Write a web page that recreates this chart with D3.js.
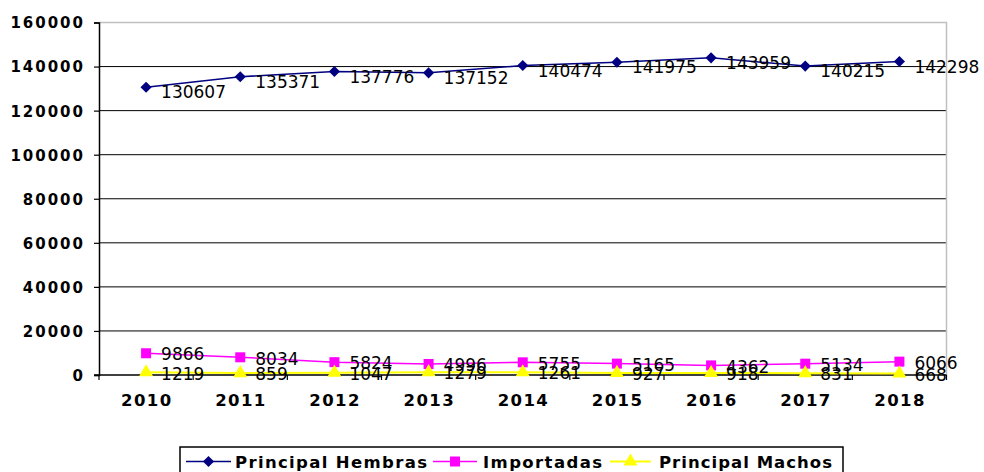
<!DOCTYPE html>
<html>
<head>
<meta charset="utf-8">
<script src="https://cdn.jsdelivr.net/npm/d3@7/dist/d3.min.js"></script>
<style>
html,body{margin:0;padding:0;background:#fff;}
svg{display:block;}
</style>
</head>
<body>
<svg id="chart" width="984" height="472"></svg>
<script>
const years = ["2010","2011","2012","2013","2014","2015","2016","2017","2018"];
const hembras = [130607,135371,137776,137152,140474,141975,143959,140215,142298];
const importadas = [9866,8034,5824,4996,5755,5165,4362,5134,6066];
const machos = [1219,859,1047,1279,1261,927,918,831,668];
const yTicks = [0,20000,40000,60000,80000,100000,120000,140000,160000];
const seriesNames = ["Principal Hembras","Importadas","Principal Machos"];

(function () {
const series = [
  {name: seriesNames[0], values: hembras, color: "#000080", symbol: "diamond", dy: 5, lw: 1.5},
  {name: seriesNames[1], values: importadas, color: "#FF00FF", symbol: "square", dy: 1, lw: 1.5},
  {name: seriesNames[2], values: machos, color: "#FFFF00", symbol: "triangle", dy: 1, lw: 2}
];

const svg = d3.select("#chart");
const pLeft = 99, pRight = 946.5, pTop = 22.5, pBottom = 375;
const x = d3.scaleBand().domain(years).range([pLeft, pRight]).padding(0);
const y = d3.scaleLinear().domain([0,160000]).range([pBottom, pTop]);

// gridlines
svg.append("g").selectAll("line").data(yTicks.filter(d => d > 0 && d < 160000)).join("line")
  .attr("x1", pLeft).attr("x2", pRight)
  .attr("y1", d => y(d)).attr("y2", d => y(d))
  .attr("stroke", "#000").attr("stroke-width", 1);

// plot border (top, right) grey
svg.append("path")
  .attr("d", `M${pLeft},${y(160000)}H${pRight}V${pBottom}`)
  .attr("fill", "none").attr("stroke", "#c0c0c0").attr("stroke-width", 1.5);

// y axis
const yAxis = d3.axisLeft(y).tickValues(yTicks).tickSize(5).tickFormat(d => d);
const gy = svg.append("g").attr("transform", `translate(${pLeft},0)`).call(yAxis);
gy.select(".domain").attr("stroke", "#000").attr("stroke-width", 1.5);
gy.selectAll(".tick line").attr("stroke", "#000").attr("stroke-width", 1.2);
gy.selectAll(".tick text")
  .attr("x", -14).attr("dy", "0.36em")
  .attr("font-family", "DejaVu Sans").attr("font-weight", "bold").attr("font-size", 15)
  .attr("letter-spacing", "2px").attr("fill", "#000");

// x axis
const gx = svg.append("g").attr("transform", `translate(0,${pBottom})`);
gx.append("line").attr("x1", pLeft - 5).attr("x2", pRight).attr("y1", 0).attr("y2", 0)
  .attr("stroke", "#000").attr("stroke-width", 1.5);
const bounds = years.map(d => x(d)).concat([pRight]);
gx.selectAll("line.xt").data(bounds).join("line").attr("class", "xt")
  .attr("x1", d => d).attr("x2", d => d).attr("y1", 0).attr("y2", 5)
  .attr("stroke", "#000").attr("stroke-width", 1.2);
gx.selectAll("text").data(years).join("text")
  .attr("x", d => x(d) + x.bandwidth()/2 + 0.7).attr("y", 31)
  .attr("text-anchor", "middle")
  .attr("font-family", "DejaVu Sans").attr("font-weight", "bold").attr("font-size", 16.5)
  .attr("letter-spacing", "1.4px").attr("fill", "#000")
  .text(d => d);

const symType = {diamond: d3.symbolSquare, square: d3.symbolSquare, triangle: d3.symbolTriangle};
const symSize = {diamond: 62, square: 100, triangle: 85};
const cx = (d, i) => x(years[i]) + x.bandwidth()/2;

series.forEach(s => {
  const g = svg.append("g");
  const line = d3.line().x((d, i) => cx(d, i)).y(d => y(d));
  g.append("path").attr("d", line(s.values)).attr("fill", "none")
    .attr("stroke", s.color).attr("stroke-width", s.lw);
  g.selectAll("path.m").data(s.values).join("path").attr("class", "m")
    .attr("d", d3.symbol().type(symType[s.symbol]).size(symSize[s.symbol]))
    .attr("transform", (d, i) => `translate(${cx(d, i)},${y(d)})` + (s.symbol === "diamond" ? " rotate(45)" : ""))
    .attr("fill", s.color);
});

// data labels (drawn last, above lines)
series.forEach(s => {
  svg.append("g").selectAll("text").data(s.values).join("text")
    .attr("x", (d, i) => cx(d, i) + 15)
    .attr("y", d => y(d) + s.dy + 6.2)
    .attr("font-family", "DejaVu Sans").attr("font-size", 17).attr("fill", "#000")
    .text(d => d);
});

// legend
const lg = svg.append("g");
lg.append("rect").attr("x", 180).attr("y", 447).attr("width", 663).attr("height", 32)
  .attr("fill", "#fff").attr("stroke", "#000").attr("stroke-width", 1.5);
const legendItems = [
  {s: series[0], x1: 186, x2: 231, tx: 235, tw: 192},
  {s: series[1], x1: 433, x2: 477, tx: 483, tw: 119},
  {s: series[2], x1: 610, x2: 651, tx: 659, tw: 173}
];
const ly = 461.5;
legendItems.forEach(it => {
  lg.append("line").attr("x1", it.x1).attr("x2", it.x2).attr("y1", ly).attr("y2", ly)
    .attr("stroke", it.s.color).attr("stroke-width", it.s.lw);
  lg.append("path")
    .attr("d", d3.symbol().type(symType[it.s.symbol]).size(symSize[it.s.symbol]))
    .attr("transform", `translate(${(it.x1 + it.x2)/2},${ly})` + (it.s.symbol === "diamond" ? " rotate(45)" : ""))
    .attr("fill", it.s.color);
  lg.append("text").attr("x", it.tx).attr("y", 467.5)
    .attr("font-family", "DejaVu Sans").attr("font-weight", "bold").attr("font-size", 16.5)
    .attr("textLength", it.tw).attr("lengthAdjust", "spacing")
    .attr("fill", "#000").text(it.s.name);
});
})();
</script>
</body>
</html>
